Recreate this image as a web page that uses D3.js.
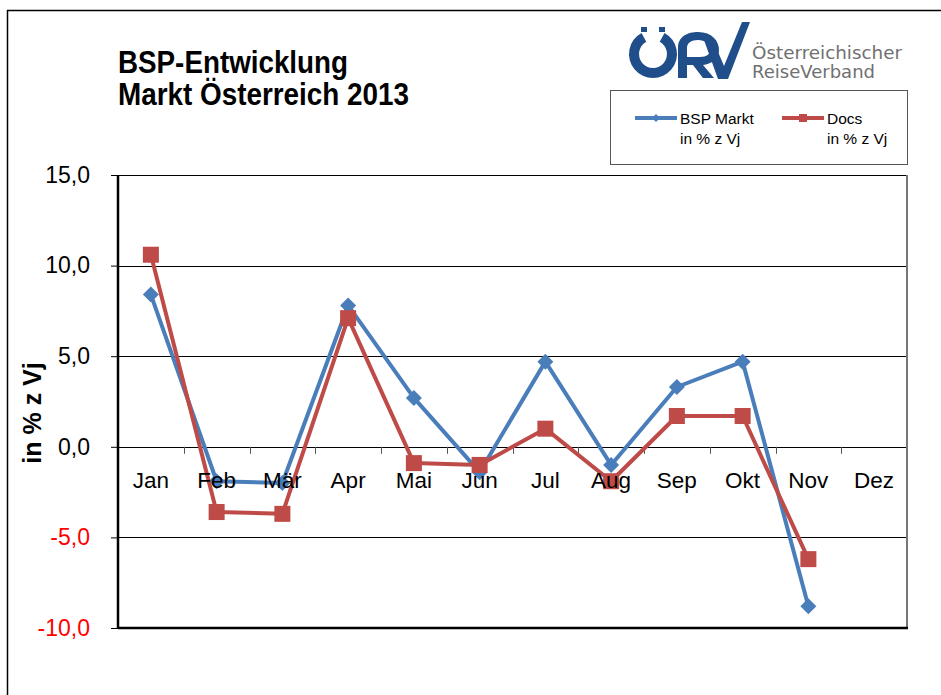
<!DOCTYPE html>
<html><head><meta charset="utf-8">
<script src="https://cdn.jsdelivr.net/npm/d3@7"></script>
<style>
html,body{margin:0;padding:0;background:#fff;}
svg{display:block;font-family:"Liberation Sans",Arial,sans-serif;}
</style></head>
<body>
<svg id="c" width="941" height="695"></svg>
<script>
const months = ["Jan","Feb","Mär","Apr","Mai","Jun","Jul","Aug","Sep","Okt","Nov","Dez"];
const bspMarkt = [8.4,-1.9,-2.0,7.8,2.7,-1.4,4.7,-1.0,3.3,4.7,-8.8,null];
const docs = [10.6,-3.6,-3.7,7.1,-0.9,-1.0,1.0,-1.9,1.7,1.7,-6.2,null];
const yTicks = [-10,-5,0,5,10,15];
const titleLines = ["BSP-Entwicklung","Markt Österreich 2013"];
const legendLabels = [["BSP Markt","in % z Vj"],["Docs","in % z Vj"]];
const yTitle = "in % z Vj";

const svg = d3.select("#c");
const L=118,R=907,T=175,B=628;
const blue="#4a7ebb", red="#be4b48";

// slide frame
svg.append("line").attr("x1",7.5).attr("x2",7.5).attr("y1",10).attr("y2",695).attr("stroke","#000").attr("stroke-width",1.5);
svg.append("line").attr("x1",7).attr("x2",941).attr("y1",10.5).attr("y2",10.5).attr("stroke","#000").attr("stroke-width",1.5);

const x = d3.scaleBand().domain(months).range([L,R]);
const y = d3.scaleLinear().domain([-10,15]).range([B,T]);
const cx = m => x(m)+x.bandwidth()/2;

// gridlines
svg.append("g").selectAll("line").data(yTicks.filter(v=>v>-10&&v<15)).join("line")
 .attr("x1",L).attr("x2",R).attr("y1",d=>Math.round(y(d))+0.5).attr("y2",d=>Math.round(y(d))+0.5)
 .attr("stroke","#000").attr("stroke-width",1);

// plot border
svg.append("line").attr("x1",L).attr("x2",R).attr("y1",T+0.5).attr("y2",T+0.5).attr("stroke","#000").attr("stroke-width",1);
svg.append("line").attr("x1",R).attr("x2",R).attr("y1",T).attr("y2",B).attr("stroke","#777").attr("stroke-width",2);
svg.append("line").attr("x1",L).attr("x2",R+1).attr("y1",B).attr("y2",B).attr("stroke","#000").attr("stroke-width",2.5);

// x ticks at band boundaries on zero line
const bounds = months.slice(1).map(m=>x(m));
svg.append("g").selectAll("line").data(bounds).join("line")
 .attr("x1",d=>Math.round(d)+0.5).attr("x2",d=>Math.round(d)+0.5)
 .attr("y1",y(0)).attr("y2",y(0)+7).attr("stroke","#555").attr("stroke-width",1);

// y axis
const fmt = d => d.toFixed(1).replace(".",",");
const yAxis = svg.append("g").attr("transform",`translate(${L},0)`)
 .call(d3.axisLeft(y).tickValues(yTicks).tickSize(7).tickPadding(21).tickFormat(fmt));
yAxis.select(".domain").attr("stroke","#000").attr("stroke-width",2.5).attr("d",`M0,${T}V${B}`);
yAxis.selectAll(".tick line").attr("stroke","#000").attr("stroke-width",1);
yAxis.selectAll(".tick text").attr("font-size",23).attr("font-family","Liberation Sans, Arial, sans-serif")
 .attr("fill",d=>d<0?"#ff0000":"#000");

// y title
svg.append("text").attr("transform","translate(41,413) rotate(-90)").attr("text-anchor","middle")
 .attr("font-size",25).attr("font-weight","bold").text(yTitle);

// title
svg.append("g").selectAll("text").data(titleLines).join("text")
 .attr("x",118).attr("y",(d,i)=>73+i*32).attr("font-size",31).attr("font-weight","bold")
 .attr("textLength",(d,i)=>i===0?230:291).attr("lengthAdjust","spacingAndGlyphs").text(d=>d);

// lines
const line = d3.line().defined(d=>d.v!==null).x(d=>cx(d.m)).y(d=>y(d.v));
const bData = months.map((m,i)=>({m,v:bspMarkt[i]}));
const rData = months.map((m,i)=>({m,v:docs[i]}));
svg.append("path").datum(bData).attr("d",line).attr("fill","none").attr("stroke",blue).attr("stroke-width",4).attr("stroke-linejoin","round");
svg.append("g").selectAll("path").data(bData.filter(d=>d.v!==null)).join("path")
 .attr("transform",d=>`translate(${cx(d.m)},${y(d.v)})`).attr("d","M0,-8L8,0L0,8L-8,0Z").attr("fill",blue);
svg.append("path").datum(rData).attr("d",line).attr("fill","none").attr("stroke",red).attr("stroke-width",4).attr("stroke-linejoin","round");
svg.append("g").selectAll("rect").data(rData.filter(d=>d.v!==null)).join("rect")
 .attr("x",d=>cx(d.m)-8).attr("y",d=>y(d.v)-8).attr("width",16).attr("height",16).attr("fill",red);

// x labels (drawn over the series, as in the reference)
svg.append("g").selectAll("text").data(months).join("text")
 .attr("x",d=>cx(d)).attr("y",y(0)+41).attr("text-anchor","middle")
 .attr("font-size",22.5).attr("fill","#000").text(d=>d);

// legend
svg.append("rect").attr("x",610.5).attr("y",90.5).attr("width",297).attr("height",74).attr("fill","#fff").attr("stroke","#555").attr("stroke-width",1);
const lg = [{c:blue,x:635,shape:"d"},{c:red,x:782,shape:"s"}];
lg.forEach((o,i)=>{
  svg.append("line").attr("x1",o.x).attr("x2",o.x+42).attr("y1",118).attr("y2",118).attr("stroke",o.c).attr("stroke-width",4);
  if(o.shape==="d") svg.append("path").attr("transform",`translate(${o.x+21},118)`).attr("d","M0,-4L4,0L0,4L-4,0Z").attr("fill",o.c);
  else svg.append("rect").attr("x",o.x+17).attr("y",114).attr("width",8).attr("height",8).attr("fill",o.c);
  svg.append("g").selectAll("text").data(legendLabels[i]).join("text")
   .attr("x",o.x+45).attr("y",(d,j)=>124+j*20).attr("font-size",15.5).text(d=>d);
});

// logo
const lc="#1f4e8a";
const lgo = svg.append("g");
lgo.append("path").attr("transform","translate(653,54)")
 .attr("d",d3.arc().innerRadius(14).outerRadius(24).startAngle(0.5).endAngle(2*Math.PI-0.5)()).attr("fill",lc);
lgo.append("rect").attr("x",641).attr("y",27).attr("width",6).attr("height",5).attr("fill",lc);
lgo.append("rect").attr("x",659).attr("y",27).attr("width",6).attr("height",5).attr("fill",lc);
// R
lgo.append("path").attr("d","M678,78 L678,48 C678,36 688,32 698,32 C712,32 719,41 719,50 C719,59 711,64 703,65 L714,78 L703,78 L693,65 L687,65 L687,78 Z M687,57 L700,57 C707,57 710,54 710,50 C710,44 705,40 698,40 C691,40 687,43 687,48 Z").attr("fill",lc);
// V
lgo.append("path").attr("d","M704,40 L713,40 L724,66 L742,22 L750,22 L728,79 L718,79 Z").attr("fill",lc);
svg.append("g").selectAll("text").data(["Österreichischer","ReiseVerband"]).join("text")
 .attr("x",752).attr("y",(d,i)=>59+i*19).attr("font-size",17.5).attr("fill","#707070")
 .attr("font-family","DejaVu Sans, sans-serif").attr("textLength",(d,i)=>i===0?150:123).attr("lengthAdjust","spacingAndGlyphs").text(d=>d);
</script>
</body></html>
